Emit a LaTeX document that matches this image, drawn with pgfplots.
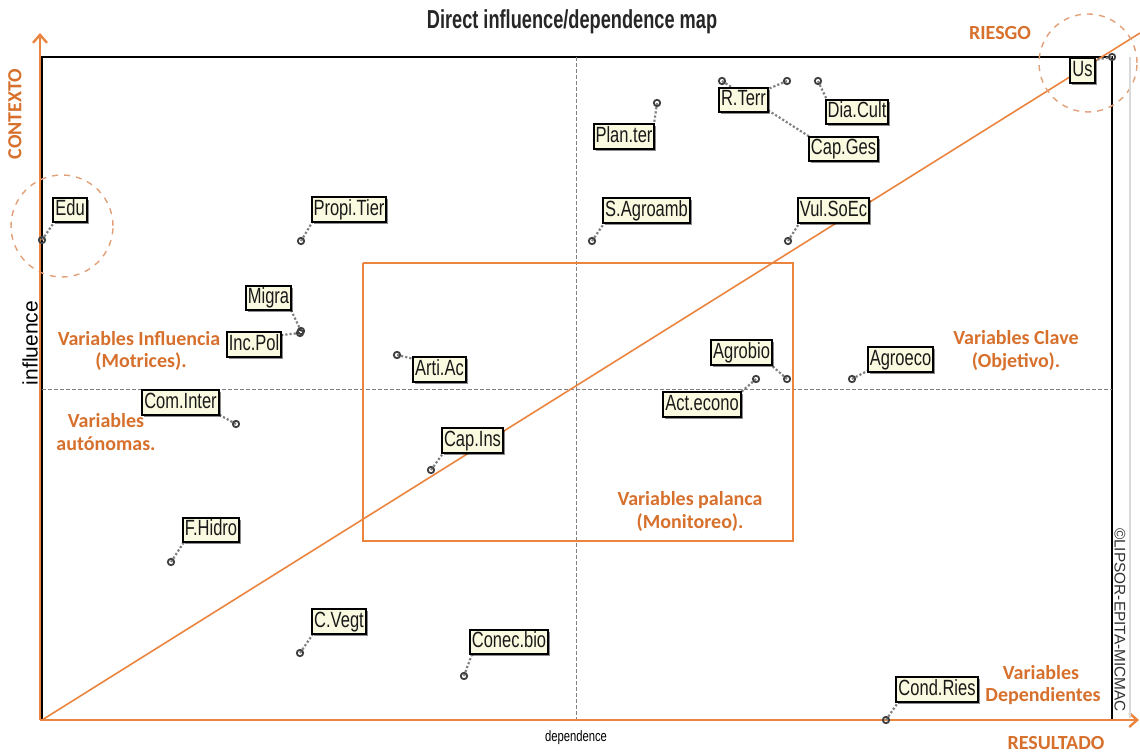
\documentclass[border=0pt]{standalone}
\usepackage{pgfplots}
\pgfplotsset{compat=1.18}
\usepackage{pgfplotstable}
\usepackage{fontspec}
\setmainfont{Liberation Sans}
\newfontfamily\narrowfont[FakeStretch=0.75]{Liberation Sans}
\newfontfamily\titlefont[FakeStretch=0.7]{Liberation Sans}
\newfontfamily\calfont{Carlito}
\usetikzlibrary{arrows.meta,shadows}

\definecolor{orng}{RGB}{234,132,62}
\definecolor{orngtxt}{RGB}{214,112,44}
\definecolor{peach}{RGB}{226,160,120}
\definecolor{lbl}{RGB}{250,250,224}

% point (x,y), leader end (ex,ey), label centre (lx,ly) -- in picture pixels
\pgfplotstableread{
x    y    ex   ey   lx     ly     label
42   240  55   221  70     210    Edu
301  241  313  221  349    209.5  Propi.Tier
301  331  291  310  268.5  298    Migra
300  333  282  335  254    344.5  Inc.Pol
236  424  216  413  180.5  402.5  Com.Inter
397  355  414  359  439.5  369.5  Arti.Ac
431  470  444  452  472.5  440.5  Cap.Ins
787  379  770  364  741.5  352.5  Agrobio
756  379  740  393  702    404.5  Act.econo
852  379  869  370  900.5  359.5  Agroeco
171  562  184  542  211    530    F.Hidro
300  653  313  634  339    621.5  C.Vegt
464  676  472  654  509    642    Conec.bio
657  103  654  124  624    136.5  Plan.ter
787  81   768  89   743.5  100    R.Terr
722  81   810  137  843.5  149    Cap.Ges
818  81   827  100  857    112    Dia.Cult
1112 57   1094 60   1082.5 70.5   Us
592  241  605  222  646.5  210.5  S.Agroamb
788  241  800  222  833.5  210.5  Vul.SoEc
886  720  899  701  937    689.5  Cond.Ries
}\vars

\begin{document}
\begin{tikzpicture}
\begin{axis}[
  scale only axis,
  width=535pt, height=331.5pt,
  xmin=42, xmax=1112, ymin=57, ymax=720,
  y dir=reverse,
  axis line style={black, line width=0.8pt},
  ticks=none,
  clip=false,
]
\coordinate (bbtl) at (axis cs:0,0);
\coordinate (bbbr) at (axis cs:1140,753);

% quadrant guides
\addplot[gray, dash pattern=on 2pt off 1pt, line width=0.5pt] coordinates {(576,57) (576,720)};
\addplot[gray, dash pattern=on 2pt off 1pt, line width=0.5pt] coordinates {(42,389) (1112,389)};

% lever-variables box
\addplot[orng, line width=0.6pt] coordinates {(363,263) (793,263) (793,541) (363,541) (363,263)};

% diagonal
\addplot[orng, line width=0.8pt] coordinates {(42,720) (1140,33)};

% highlight circles
\draw[peach, dashed, line width=0.7pt] (axis cs:62,226) circle[radius=25.5pt];
\draw[peach, dashed, line width=0.7pt] (axis cs:1088,63) circle[radius=24.5pt];

% orange axes
\draw[orng, line width=1.2pt, -{Straight Barb[length=4pt,width=7pt,line width=1.2pt]}] (axis cs:40,720) -- (axis cs:40,33);
\draw[orng, line width=1.2pt, -{Straight Barb[length=4pt,width=7pt,line width=1.2pt]}] (axis cs:40,720) -- (axis cs:1139,720);

% leader lines
\addplot[gray, densely dotted, line width=1.1pt, mark=none,
  quiver={u=\thisrow{ex}-\thisrow{x}, v=\thisrow{ey}-\thisrow{y}}]
  table[x=x, y=y] {\vars};

% points
\addplot[only marks, mark=o, mark size=1.6pt,
  mark options={draw=black!75, line width=0.9pt, fill=white}]
  table[x=x, y=y] {\vars};

% labels
\addplot[draw=none, mark=none, point meta=explicit symbolic, nodes near coords,
  every node near coord/.append style={anchor=center,
    font=\narrowfont\fontsize{11}{13}\selectfont, text=black!90,
    fill=lbl, draw=black, line width=1pt, inner sep=1pt,
    text height=8pt, text depth=2.3pt,
    drop shadow={shadow xshift=1pt, shadow yshift=-1pt, fill=black, opacity=0.45}}]
  table[x=lx, y=ly, meta=label] {\vars};

% texts
\node[font=\titlefont\bfseries\fontsize{13}{15}\selectfont, text=black!85] at (axis cs:572,22) {Direct influence/dependence map};
\node[font=\fontsize{10.5}{12}\selectfont, rotate=90] at (axis cs:30,343) {influence};
\node[font=\narrowfont\fontsize{7.5}{8}\selectfont] at (axis cs:576,738) {dependence};
\node[font=\fontsize{7.7}{9}\selectfont, text=black!80, rotate=-90] at (axis cs:1120,620) {©LIPSOR-EPITA-MICMAC};
\draw[gray!30, line width=0.6pt] (axis cs:1130,57) -- (axis cs:1130,718);

\tikzset{otx/.style={font=\calfont\bfseries\fontsize{10}{12}\selectfont, text=orngtxt, inner sep=0pt}}
\node[otx, rotate=90] at (axis cs:15,114) {CONTEXTO};
\node[otx] at (axis cs:1000,33) {RIESGO};
\node[otx] at (axis cs:1056,743) {RESULTADO};
\node[otx] at (axis cs:139,339) {Variables Influencia};
\node[otx] at (axis cs:141,362) {(Motrices).};
\node[otx] at (axis cs:106,421) {Variables};
\node[otx] at (axis cs:106,444) {autónomas.};
\node[otx] at (axis cs:690,500) {Variables palanca};
\node[otx] at (axis cs:690,523) {(Monitoreo).};
\node[otx] at (axis cs:1016,338) {Variables Clave};
\node[otx] at (axis cs:1016,362) {(Objetivo).};
\node[otx] at (axis cs:1041,673) {Variables};
\node[otx] at (axis cs:1043,696) {Dependientes};
\end{axis}
\pgfresetboundingbox
\path[use as bounding box] (bbtl) rectangle (bbbr);
\end{tikzpicture}
\end{document}
